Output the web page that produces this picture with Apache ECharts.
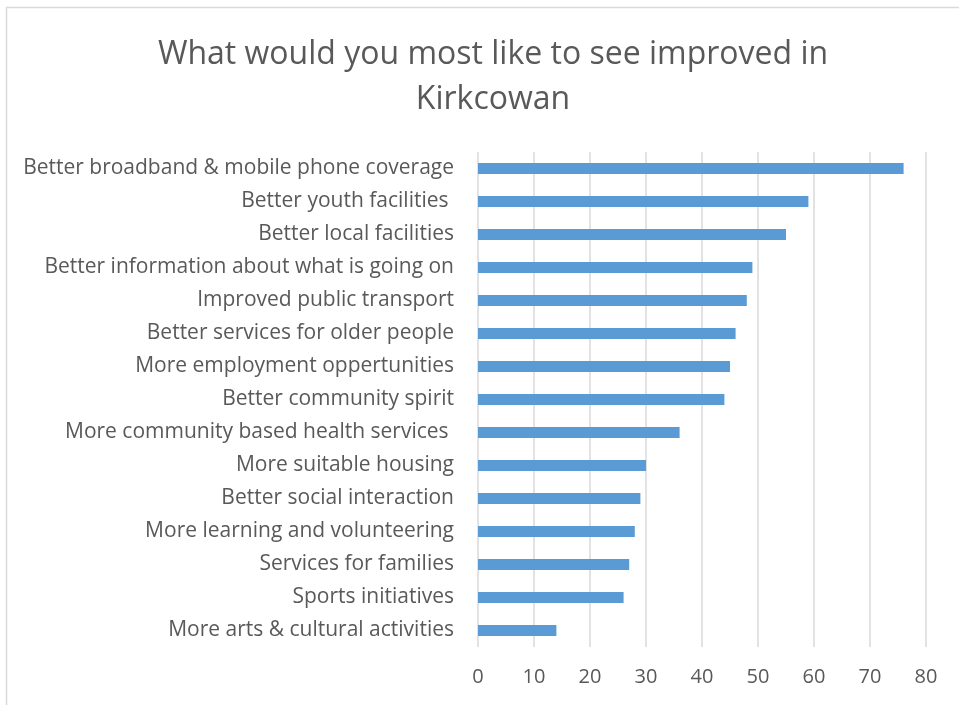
<!DOCTYPE html>
<html>
<head>
<meta charset="utf-8">
<script src="https://cdn.jsdelivr.net/npm/echarts@6/dist/echarts.min.js"></script>
<style>html,body{margin:0;padding:0;background:#fff}#c{width:959px;height:705px}</style>
</head>
<body>
<div id="c"></div>
<script>
const categories = [
  "Better broadband & mobile phone coverage",
  "Better youth facilities ",
  "Better local facilities",
  "Better information about what is going on",
  "Improved public transport",
  "Better services for older people",
  "More employment oppertunities",
  "Better community spirit",
  "More community based health services ",
  "More suitable housing",
  "Better social interaction",
  "More learning and volunteering",
  "Services for families",
  "Sports initiatives",
  "More arts & cultural activities"
];
const values = [76, 59, 55, 49, 48, 46, 45, 44, 36, 30, 29, 28, 27, 26, 14];
const titleText = "What would you most like to see improved in\nKirkcowan";

const FONT = "Open Sans";
const chart = echarts.init(document.getElementById('c'));
chart.setOption({
  animation: false,
  backgroundColor: '#fff',
  title: {
    text: titleText,
    left: 488, top: 27, textAlign: 'center',
    textStyle: { fontFamily: FONT, fontSize: 32, fontWeight: 'normal', color: '#595959', lineHeight: 45 }
  },
  graphic: [{
    type: 'rect', shape: { x: 6.5, y: 7.5, width: 1200, height: 1200 },
    style: { fill: 'none', stroke: '#d9d9d9', lineWidth: 1.5 }, silent: true
  }],
  grid: { left: 478, right: 33, top: 152, bottom: 58, containLabel: false },
  xAxis: {
    type: 'value', min: 0, max: 80, interval: 10,
    axisLine: { show: false }, axisTick: { show: false },
    splitLine: { show: true, lineStyle: { color: '#d9d9d9', width: 1.5 } },
    axisLabel: { margin: 20, fontFamily: FONT, fontSize: 20, color: '#595959' }
  },
  yAxis: {
    type: 'category', data: categories, inverse: true,
    axisLine: { show: false }, axisTick: { show: false },
    axisLabel: { margin: 24, fontFamily: FONT, fontSize: 21, color: '#595959', padding: [6, 0, 0, 0] }
  },
  series: [{
    type: 'bar', data: values, barWidth: '33%',
    itemStyle: { color: '#5b9bd5' }
  }]
});
</script>
</body>
</html>
